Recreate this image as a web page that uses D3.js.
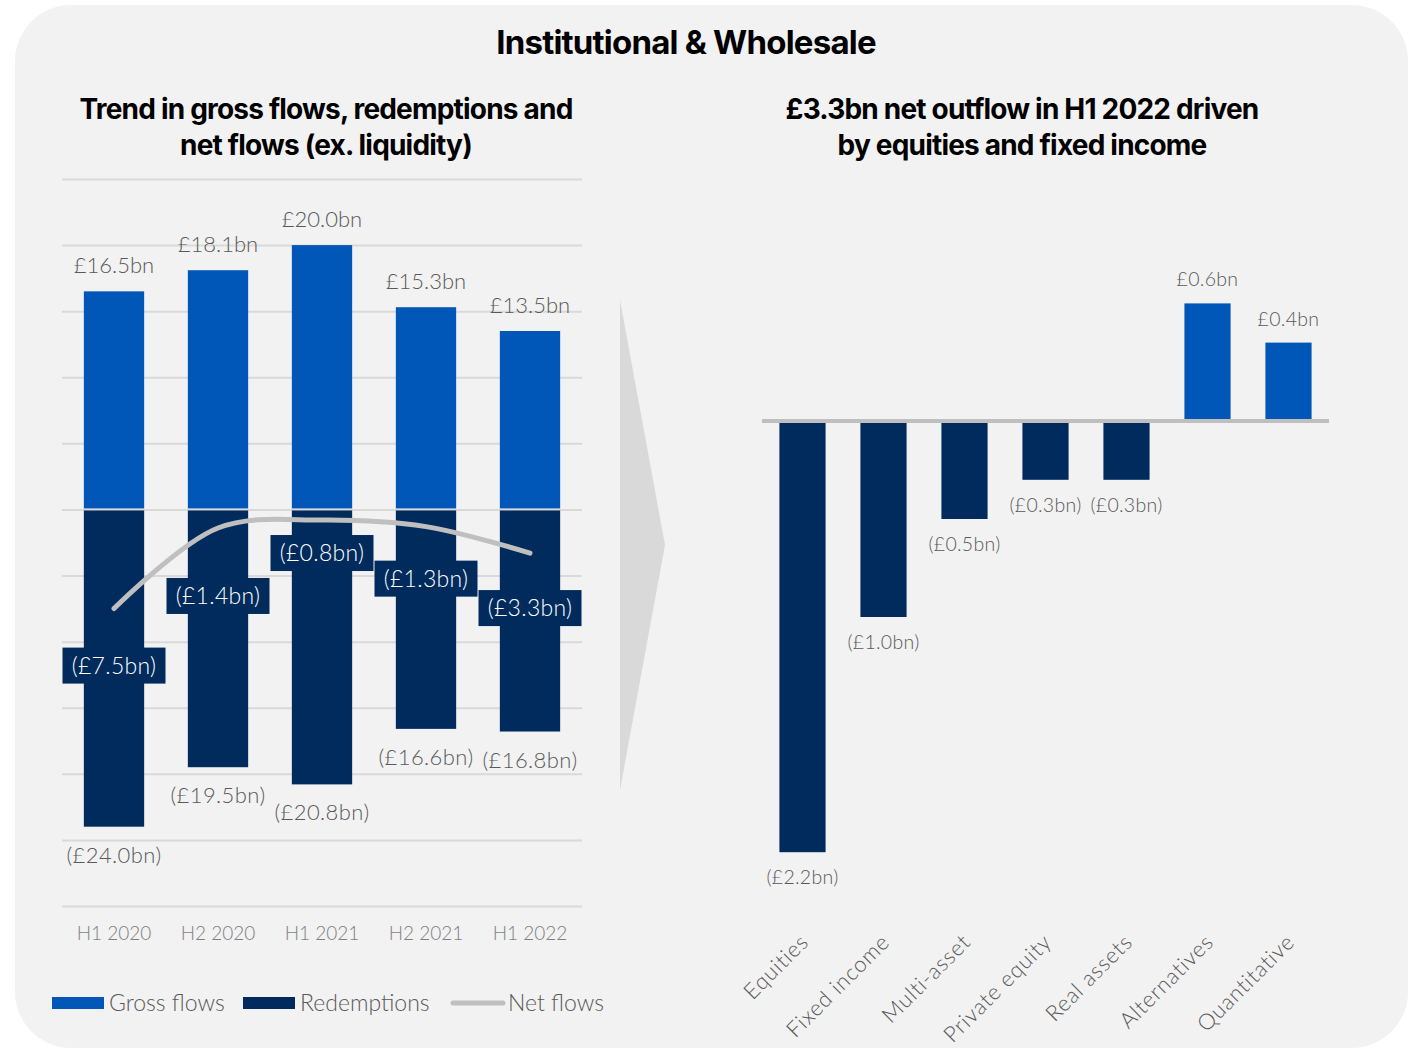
<!DOCTYPE html>
<html>
<head>
<meta charset="utf-8">
<script src="https://cdn.jsdelivr.net/npm/d3@7"></script>
<style>
  html, body { margin: 0; padding: 0; background: #ffffff; }
  svg { display: block; }
</style>
</head>
<body>
<svg id="chart" width="1419" height="1048"></svg>
<script>
// ---------- DATA ----------
const periods = ["H1 2020", "H2 2020", "H1 2021", "H2 2021", "H1 2022"];
const grossFlows = [16.5, 18.1, 20.0, 15.3, 13.5];
const redemptions = [-24.0, -19.5, -20.8, -16.6, -16.8];
const netFlows = [-7.5, -1.4, -0.8, -1.3, -3.3];
const leftTicks = [-30, -25, -20, -15, -10, -5, 0, 5, 10, 15, 20, 25];

const assetClasses = ["Equities", "Fixed income", "Multi-asset", "Private equity", "Real assets", "Alternatives", "Quantitative"];
const netByAsset = [-2.2, -1.0, -0.5, -0.3, -0.3, 0.6, 0.4];

const legendItems = ["Gross flows", "Redemptions", "Net flows"];

// ---------- LAYOUT (positions / styles) ----------
const netLabelOffsets = [57, 68, 33, 52, 55]; // px below the net-flow point
const COL_GROSS = "#0057b8";
const COL_RED = "#002b5c";
const COL_NET = "#bfbfbf";
const COL_GRID = "#d9d9d9";
const COL_TEXT = "#595959";
const LABEL_FONT = "Lato, 'Open Sans', sans-serif";
const TITLE_FONT = "Inter, 'Noto Sans', sans-serif";

const fmt = v => v < 0 ? `(£${Math.abs(v).toFixed(1)}bn)` : `£${v.toFixed(1)}bn`;

const svg = d3.select("#chart");

// Panel
svg.append("rect")
  .attr("x", 15).attr("y", 5).attr("width", 1393).attr("height", 1043)
  .attr("rx", 56).attr("ry", 56)
  .attr("fill", "#f2f2f2");

// Titles
svg.append("text")
  .attr("x", 686).attr("y", 54)
  .attr("text-anchor", "middle")
  .style("font-family", TITLE_FONT).style("font-weight", 700)
  .style("font-size", "33px").style("letter-spacing", "-0.8px")
  .attr("fill", "#000").text("Institutional & Wholesale");

const leftTitle = ["Trend in gross flows, redemptions and", "net flows (ex. liquidity)"];
const rightTitle = ["£3.3bn net outflow in H1 2022 driven", "by equities and fixed income"];
function subtitle(lines, cx) {
  const t = svg.append("text")
    .attr("text-anchor", "middle")
    .style("font-family", TITLE_FONT).style("font-weight", 700)
    .style("font-size", "28px").style("letter-spacing", "-0.8px")
    .attr("fill", "#000");
  lines.forEach((l, i) => {
    t.append("tspan").attr("x", cx).attr("y", 119 + i * 36).text(l);
  });
}
subtitle(leftTitle, 326);
subtitle(rightTitle, 1022);

// ---------- LEFT CHART ----------
const xL = d3.scaleBand().domain(periods).range([62, 582]).paddingInner(0.42).paddingOuter(0.21);
const yL = d3.scaleLinear().domain([-30, 25]).range([906, 179]);

// gridlines
const gridG = svg.append("g").attr("transform", "translate(62,0)")
  .call(d3.axisLeft(yL).tickValues(leftTicks).tickSize(-520).tickFormat(""));
gridG.select(".domain").remove();
gridG.selectAll(".tick line").attr("stroke", COL_GRID).attr("stroke-width", 2);

// gross bars
svg.append("g").selectAll("rect").data(periods).join("rect")
  .attr("x", d => xL(d))
  .attr("width", xL.bandwidth())
  .attr("y", (d, i) => yL(grossFlows[i]))
  .attr("height", (d, i) => yL(0) - yL(grossFlows[i]) - 1)
  .attr("fill", COL_GROSS);

// redemption bars
svg.append("g").selectAll("rect").data(periods).join("rect")
  .attr("x", d => xL(d))
  .attr("width", xL.bandwidth())
  .attr("y", yL(0) + 1)
  .attr("height", (d, i) => yL(redemptions[i]) - yL(0) - 1)
  .attr("fill", COL_RED);

// net line
const line = d3.line()
  .x((d, i) => xL(periods[i]) + xL.bandwidth() / 2)
  .y(d => yL(d))
  .curve(d3.curveCatmullRom.alpha(0.5));
svg.append("path").datum(netFlows)
  .attr("d", line)
  .attr("fill", "none").attr("stroke", COL_NET)
  .attr("stroke-width", 5).attr("stroke-linecap", "round");

// gross labels
svg.append("g").selectAll("text").data(periods).join("text")
  .attr("x", d => xL(d) + xL.bandwidth() / 2)
  .attr("y", (d, i) => yL(grossFlows[i]) - 18)
  .attr("text-anchor", "middle")
  .style("font-family", LABEL_FONT).style("font-weight", 300).style("font-size", "22px")
  .attr("fill", COL_TEXT)
  .text((d, i) => fmt(grossFlows[i]));

// redemption labels
svg.append("g").selectAll("text").data(periods).join("text")
  .attr("x", d => xL(d) + xL.bandwidth() / 2)
  .attr("y", (d, i) => yL(redemptions[i]) + 36)
  .attr("text-anchor", "middle")
  .style("font-family", LABEL_FONT).style("font-weight", 300).style("font-size", "22px")
  .style("letter-spacing", "0.4px")
  .attr("fill", COL_TEXT)
  .text((d, i) => fmt(redemptions[i]));

// net labels with boxes
const netG = svg.append("g").selectAll("g").data(periods).join("g")
  .attr("transform", (d, i) => `translate(${xL(d) + xL.bandwidth() / 2},${yL(netFlows[i]) + netLabelOffsets[i]})`);
netG.append("rect")
  .attr("x", -51.5).attr("y", -18).attr("width", 103).attr("height", 36)
  .attr("fill", COL_RED);
netG.append("text")
  .attr("text-anchor", "middle").attr("dy", "0.36em")
  .style("font-family", LABEL_FONT).style("font-weight", 300).style("font-size", "23px")
  .style("letter-spacing", "0.3px")
  .attr("fill", "#ffffff")
  .text((d, i) => fmt(netFlows[i]));

// x axis labels
const xAxisG = svg.append("g").attr("transform", "translate(0,906)")
  .call(d3.axisBottom(xL).tickSize(0).tickPadding(21));
xAxisG.select(".domain").remove();
xAxisG.selectAll("text")
  .style("font-family", LABEL_FONT).style("font-weight", 300).style("font-size", "19px")
  .attr("fill", "#7f7f7f");

// legend
const legend = svg.append("g");
const legendX = [52, 243, 451];
legendItems.forEach((name, i) => {
  const g = legend.append("g").attr("transform", `translate(${legendX[i]},1003)`);
  if (i < 2) {
    g.append("rect").attr("x", 0).attr("y", -6).attr("width", 52).attr("height", 12)
      .attr("fill", i === 0 ? COL_GROSS : COL_RED);
  } else {
    g.append("line").attr("x1", 2).attr("x2", 52).attr("y1", 0).attr("y2", 0)
      .attr("stroke", COL_NET).attr("stroke-width", 5).attr("stroke-linecap", "round");
  }
  g.append("text").attr("x", 57).attr("dy", "0.36em")
    .style("font-family", LABEL_FONT).style("font-weight", 300).style("font-size", "23px")
    .attr("fill", COL_TEXT).text(name);
});

// ---------- ARROW WEDGE ----------
svg.append("path")
  .attr("d", d3.line()([[620, 300], [665, 545], [620, 790]]) + "Z")
  .attr("fill", "#d9d9d9");

// ---------- RIGHT CHART ----------
const xR = d3.scaleBand().domain(assetClasses).range([762, 1329]).paddingInner(0.43).paddingOuter(0.215);
const yR = d3.scaleLinear().domain([-2.5, 1.5]).range([911, 127]);

svg.append("g").selectAll("rect").data(assetClasses).join("rect")
  .attr("x", d => xR(d))
  .attr("width", xR.bandwidth())
  .attr("y", (d, i) => Math.min(yR(0), yR(netByAsset[i])))
  .attr("height", (d, i) => Math.abs(yR(netByAsset[i]) - yR(0)))
  .attr("fill", (d, i) => netByAsset[i] < 0 ? COL_RED : COL_GROSS);

// zero line
svg.append("line")
  .attr("x1", 762).attr("x2", 1329).attr("y1", yR(0)).attr("y2", yR(0))
  .attr("stroke", COL_NET).attr("stroke-width", 4);

// value labels
svg.append("g").selectAll("text").data(assetClasses).join("text")
  .attr("x", d => xR(d) + xR.bandwidth() / 2)
  .attr("y", (d, i) => netByAsset[i] < 0 ? yR(netByAsset[i]) + 32 : yR(netByAsset[i]) - 17)
  .attr("text-anchor", "middle")
  .style("font-family", LABEL_FONT).style("font-weight", 300).style("font-size", "19.5px")
  .style("letter-spacing", "0.3px")
  .attr("fill", COL_TEXT)
  .text((d, i) => fmt(netByAsset[i]));

// category labels rotated
svg.append("g").selectAll("text").data(assetClasses).join("text")
  .attr("transform", d => `translate(${xR(d) + xR.bandwidth() / 2 + 2},${938}) rotate(-45)`)
  .attr("text-anchor", "end").attr("dy", "0.35em")
  .style("font-family", LABEL_FONT).style("font-weight", 300).style("font-size", "22px")
  .style("letter-spacing", "0.8px")
  .attr("fill", COL_TEXT)
  .text(d => d);
</script>
</body>
</html>
